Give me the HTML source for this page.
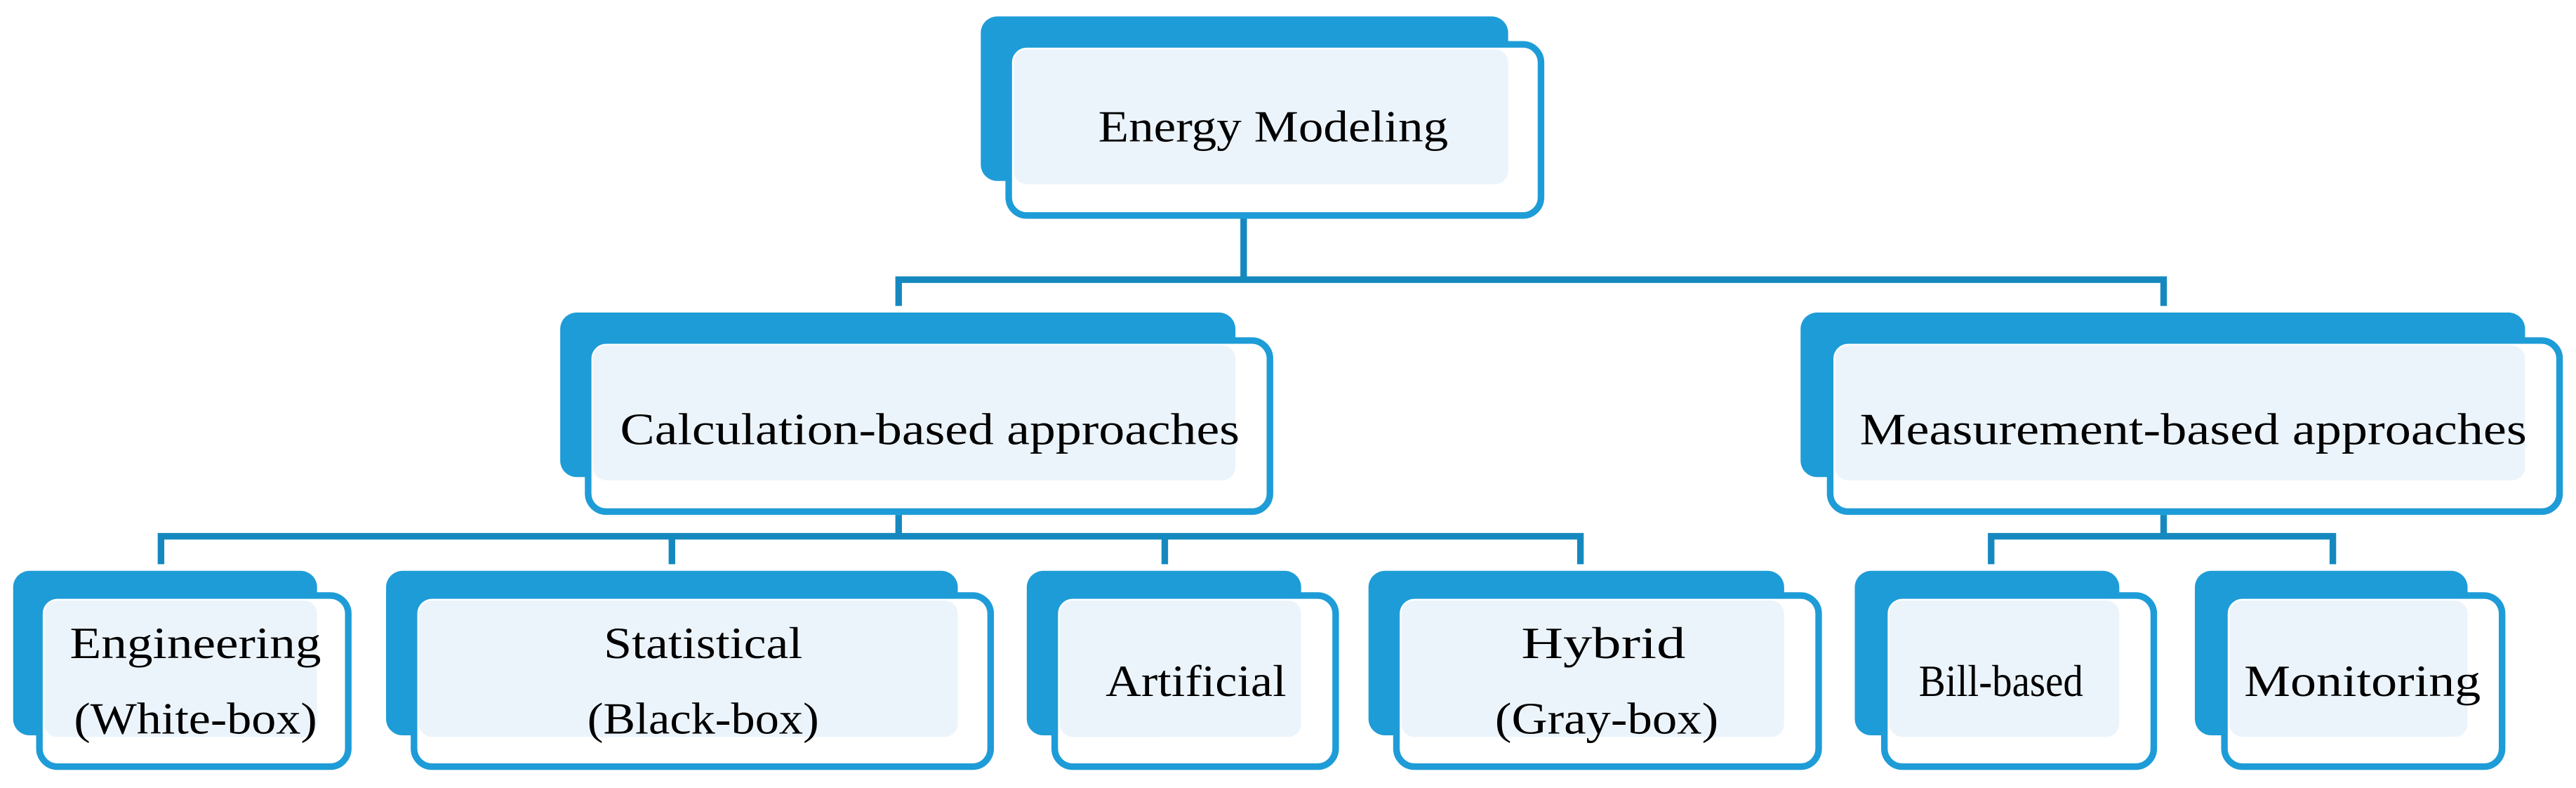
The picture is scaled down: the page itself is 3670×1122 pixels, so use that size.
<!DOCTYPE html>
<html><head><meta charset="utf-8"><style>html,body{margin:0;padding:0;background:#fff;width:3670px;height:1122px;overflow:hidden}svg{display:block}</style></head>
<body>
<svg width="3670" height="1122" viewBox="0 0 1568 479" preserveAspectRatio="none" xmlns="http://www.w3.org/2000/svg">
<g fill="none" stroke="#1589bf" stroke-width="4">
<path d="M757 133V170M547 186V170H1317V186"/>
<path d="M547 313V326M98 343V326H962V343M409 326V343M709 326V343"/>
<path d="M1317 313V326M1212 343V326H1420V343"/>
</g>
<g font-family="'Liberation Serif',serif" font-size="27" fill="#000" text-anchor="middle">
<!-- node template: back, front, fill -->
<rect x="597" y="10" width="321" height="100" rx="10" fill="#1e9cd7"/>
<rect x="614" y="27" width="324" height="104" rx="11" fill="#fff" stroke="#1e9cd7" stroke-width="4"/>
<rect x="617" y="30" width="301" height="82" rx="8" fill="#ecf4fb"/>
<text x="775" y="86" textLength="213" lengthAdjust="spacingAndGlyphs">Energy Modeling</text>

<rect x="341" y="190" width="411" height="100" rx="10" fill="#1e9cd7"/>
<rect x="358" y="207" width="415" height="104" rx="11" fill="#fff" stroke="#1e9cd7" stroke-width="4"/>
<rect x="361" y="210" width="391" height="82" rx="8" fill="#ecf4fb"/>
<text x="566" y="270" textLength="377" lengthAdjust="spacingAndGlyphs">Calculation-based approaches</text>

<rect x="1096" y="190" width="441" height="100" rx="10" fill="#1e9cd7"/>
<rect x="1114" y="207" width="444" height="104" rx="11" fill="#fff" stroke="#1e9cd7" stroke-width="4"/>
<rect x="1117" y="210" width="420" height="82" rx="8" fill="#ecf4fb"/>
<text x="1335" y="270" textLength="406" lengthAdjust="spacingAndGlyphs">Measurement-based approaches</text>

<rect x="8" y="347" width="185" height="100" rx="10" fill="#1e9cd7"/>
<rect x="24" y="362" width="188" height="104" rx="11" fill="#fff" stroke="#1e9cd7" stroke-width="4"/>
<rect x="27" y="365" width="166" height="83" rx="8" fill="#ecf4fb"/>
<text x="119" y="400" textLength="153" lengthAdjust="spacingAndGlyphs">Engineering</text>
<text x="119" y="446" textLength="148" lengthAdjust="spacingAndGlyphs">(White-box)</text>

<rect x="235" y="347" width="348" height="100" rx="10" fill="#1e9cd7"/>
<rect x="252" y="362" width="351" height="104" rx="11" fill="#fff" stroke="#1e9cd7" stroke-width="4"/>
<rect x="255" y="365" width="328" height="83" rx="8" fill="#ecf4fb"/>
<text x="428" y="400" textLength="121" lengthAdjust="spacingAndGlyphs">Statistical</text>
<text x="428" y="446" textLength="141" lengthAdjust="spacingAndGlyphs">(Black-box)</text>

<rect x="625" y="347" width="167" height="100" rx="10" fill="#1e9cd7"/>
<rect x="642" y="362" width="171" height="104" rx="11" fill="#fff" stroke="#1e9cd7" stroke-width="4"/>
<rect x="645" y="365" width="147" height="83" rx="8" fill="#ecf4fb"/>
<text x="728" y="423" textLength="110" lengthAdjust="spacingAndGlyphs">Artificial</text>

<rect x="833" y="347" width="253" height="100" rx="10" fill="#1e9cd7"/>
<rect x="850" y="362" width="257" height="104" rx="11" fill="#fff" stroke="#1e9cd7" stroke-width="4"/>
<rect x="853" y="365" width="233" height="83" rx="8" fill="#ecf4fb"/>
<text x="976" y="400" textLength="100" lengthAdjust="spacingAndGlyphs">Hybrid</text>
<text x="978" y="446" textLength="136" lengthAdjust="spacingAndGlyphs">(Gray-box)</text>

<rect x="1129" y="347" width="161" height="100" rx="10" fill="#1e9cd7"/>
<rect x="1147" y="362" width="164" height="104" rx="11" fill="#fff" stroke="#1e9cd7" stroke-width="4"/>
<rect x="1150" y="365" width="140" height="83" rx="8" fill="#ecf4fb"/>
<text x="1218" y="423" textLength="100" lengthAdjust="spacingAndGlyphs">Bill-based</text>

<rect x="1336" y="347" width="166" height="100" rx="10" fill="#1e9cd7"/>
<rect x="1354" y="362" width="169" height="104" rx="11" fill="#fff" stroke="#1e9cd7" stroke-width="4"/>
<rect x="1357" y="365" width="145" height="83" rx="8" fill="#ecf4fb"/>
<text x="1438" y="423" textLength="144" lengthAdjust="spacingAndGlyphs">Monitoring</text>
</g>
</svg>
</body></html>
